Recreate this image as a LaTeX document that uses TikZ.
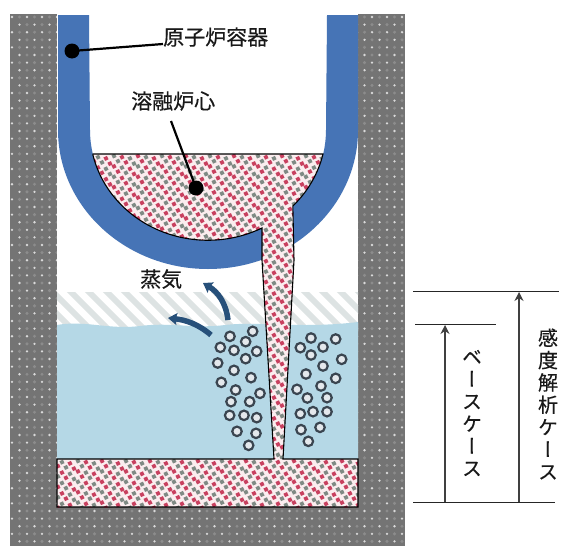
\documentclass[tikz,border=0pt]{standalone}
\usepackage{fontspec}
\setmainfont[FakeBold=0.35]{Noto Sans CJK JP}
\newfontfamily\cjkv[RawFeature=+vert,FakeBold=0.35]{Noto Sans CJK JP}
\usetikzlibrary{arrows.meta,calc}
\definecolor{concrete}{HTML}{747474}
\definecolor{concdot}{HTML}{DADADA}
\definecolor{concdim}{HTML}{8C8C8C}
\definecolor{vessel}{HTML}{4674B6}
\definecolor{water}{HTML}{B5D8E6}
\definecolor{hatchc}{HTML}{DDE3E3}
\definecolor{dbbg}{HTML}{FBEDEF}
\definecolor{dbA}{HTML}{C8405F}
\definecolor{dbB}{HTML}{7F8A84}
\definecolor{steam}{HTML}{27507A}
\definecolor{bubedge}{HTML}{3A4550}
\definecolor{bubfill}{HTML}{E4E8EC}
\newcommand{\debrisfield}[4]{%
  \foreach \j in {0,...,#4}{\foreach \i in {0,...,#3}{%
    \pgfmathsetmacro\px{#1+8*\i+4*mod(\j,2)}%
    \pgfmathsetmacro\py{#2+5.2*\j+1.2*mod(\i,3)}%
    \pgfmathtruncatemacro\kk{mod(\i+floor(\j/2),2)}%
    \ifnum\kk=0 \def\cc{dbA}\else\def\cc{dbB}\fi
    \fill[\cc,shift={(\px,\py)},rotate=25] (-1.9,-1.9) rectangle (1.9,1.9);
  }}}
\tikzset{
  leader/.style={line width=2.2pt,black},
  blackdot/.style={circle,fill=black,minimum size=15pt,inner sep=0pt},
  label/.style={font=\fontsize{21}{23}\selectfont,inner sep=0pt,text=black!90},
  vlabel/.style={font=\fontsize{20}{22.3}\selectfont\cjkv,align=center,inner sep=0pt,text=black!90},
  dimline/.style={line width=1pt,black!85},
  dimarrow/.style={line width=1.2pt,black!75,-{Stealth[length=9pt,width=9pt,inset=3pt]}},
  steamarrow/.style={line width=5.5pt,steam,-{Stealth[length=9pt,width=12pt,inset=1.5pt]}},
  bubble/.style={circle,draw=bubedge,fill=bubfill,line width=2.2pt,minimum size=9.5pt,inner sep=0pt},
  outline/.style={line width=1.1pt,black}
}
\begin{document}
\begin{tikzpicture}[x=1pt,y=-1pt]
\useasboundingbox (0,0) rectangle (561,546);
\fill[white] (0,0) rectangle (561,546);
% concrete
\fill[concrete] (10,14) rectangle (405,546);
\begin{scope}
\clip (10,14) rectangle (405,546);
\foreach \r in {0,...,70}{
  \pgfmathsetmacro\off{7.5*mod(\r,2)}
  \foreach \c in {0,...,26}{
    \fill[concdim] ({19.5+\off+15*\c},{17+7.6*\r}) circle (1.7);
    \fill[concdot] ({12+\off+15*\c},{17+7.6*\r}) circle (1.3);
  }}
\end{scope}
% cavity
\fill[white] (57,14) rectangle (358,507);
% hatching
\begin{scope}
\clip (57,292) rectangle (358,332);
\foreach \h in {0,...,20}{
  \draw[hatchc,line width=6pt] ({10+18*\h},285) -- ({60+18*\h},335);
}
\end{scope}
% water
\fill[water] (57,325) .. controls (85,320) and (110,330) .. (140,326)
  .. controls (170,322) and (195,329) .. (225,325)
  .. controls (260,321) and (300,329) .. (358,322)
  -- (358,459) -- (57,459) -- cycle;
% base debris
\fill[dbbg] (57,459) rectangle (358,507);
\begin{scope}
\clip (57,459) rectangle (358,507);
\debrisfield{54}{461}{38}{9}
\end{scope}
% vessel
\fill[vessel] (58,15) -- (58,130) arc[start angle=180,end angle=0,x radius=150,y radius=139]
  -- (358,15) -- (327,15) -- (326,130)
  arc[start angle=0,end angle=180,x radius=118,y radius=110] -- (89,15) -- cycle;
% core and jet
\def\corepath{(93,154) -- (323,154) arc[start angle=12.8,end angle=44,x radius=118,y radius=110]
  -- (294,260) -- (283,459) -- (274,459) -- (262,260) -- (262,228)
  arc[start angle=62.7,end angle=167.2,x radius=118,y radius=110] -- cycle}
\fill[dbbg] \corepath;
\begin{scope}
\clip \corepath;
\debrisfield{90}{156}{30}{59}
\end{scope}
\draw[outline] (93,154) -- (323,154) arc[start angle=12.8,end angle=44,x radius=118,y radius=110]
  -- (294,260) -- (283,459) -- (358,459) -- (358,507) -- (57,507) -- (57,459) -- (274,459)
  -- (262,260) -- (262,228) arc[start angle=62.7,end angle=167.2,x radius=118,y radius=110] -- cycle;
% bubbles
\foreach \x/\y in {300/229,368/214,271/262,312/271,347/245,380/274,347/296,263/309,312/331,363/353,274/367,317/390,390/400,303/425,359/425,299/466,342/466,380/473,321/514,378/520,356/556,543/234,617/237,511/263,579/261,543/285,635/298,579/318,528/342,617/355,501/388,573/378,532/414,591/413,511/461,549/455,591/455,513/509,570/502,535/544}{
  \node[bubble] at ({130+\x/3},{260+\y/3}) {};
}
% steam arrows
\coordinate (s1a) at (228,320);
\coordinate (s1b) at (203,283);
\coordinate (s2a) at (211,335);
\coordinate (s2b) at (168,318);
\draw[steamarrow] (s1a) .. controls (226,303) and (218,292) .. (s1b);
\draw[steamarrow] (s2a) .. controls (198,324) and (186,320) .. (s2b);
% labels
\node[blackdot] (vdot) at (72,51) {};
\node[label,anchor=west] (vlab) at (163,37) {原子炉容器};
\draw[leader] (vdot.center) -- (vlab.west |- 0,44);
\node[blackdot] (cdot) at (196,188) {};
\node[label,anchor=west] (clab) at (131,101) {溶融炉心};
\coordinate (cstart) at (171,121);
\draw[leader] (cstart) -- (cdot.center);
\node[label,anchor=west] (slab) at (140,279) {蒸気};
% dimensions
\coordinate (t1a) at (413,291); \coordinate (t1b) at (559,291);
\coordinate (t2a) at (415,324); \coordinate (t2b) at (496,324);
\coordinate (b1a) at (413,502); \coordinate (b1b) at (555,502);
\coordinate (a1) at (445,502); \coordinate (a1e) at (445,325);
\coordinate (a2) at (519,502); \coordinate (a2e) at (519,292);
\draw[dimline] (t1a) -- (t1b);
\draw[dimline] (t2a) -- (t2b);
\draw[dimline] (b1a) -- (b1b);
\draw[dimarrow] (a1) -- (a1e);
\draw[dimarrow] (a2) -- (a2e);
\node[vlabel] (vb) at (472,413) {ベ\\ー\\ス\\ケ\\ー\\ス};
\node[vlabel] (vs) at (548,404) {感\\度\\解\\析\\ケ\\ー\\ス};
\end{tikzpicture}
\end{document}
